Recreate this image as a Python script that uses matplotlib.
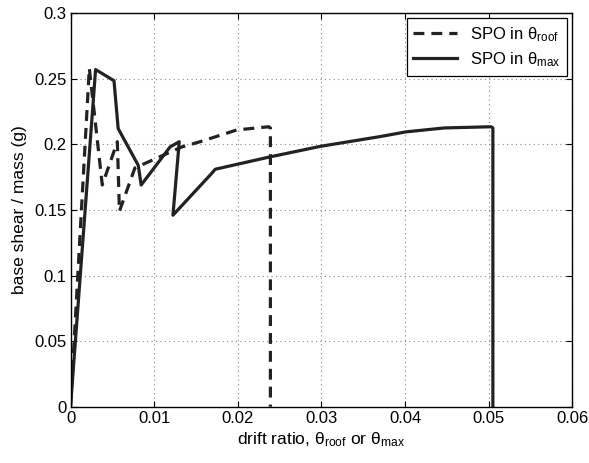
import matplotlib
matplotlib.use("Agg")
import matplotlib.pyplot as plt
from matplotlib.ticker import FuncFormatter

plt.rcParams['font.family'] = ['Liberation Sans', 'DejaVu Sans']
plt.rcParams['mathtext.fontset'] = 'custom'
plt.rcParams['mathtext.rm'] = 'Liberation Sans'
plt.rcParams['mathtext.it'] = 'Liberation Sans'
plt.rcParams['mathtext.default'] = 'regular'

# SPO in theta_roof (dashed)
roof_x = [0.0, 0.00225, 0.0038, 0.0056, 0.00585, 0.0077, 0.0133, 0.0155, 0.0199, 0.0237, 0.0239, 0.0239]
roof_y = [0.0, 0.258, 0.169, 0.202, 0.149, 0.182, 0.198, 0.202, 0.211, 0.2134, 0.2125, 0.0]

# SPO in theta_max (solid)
max_x = [0.0, 0.0030, 0.0052, 0.0057, 0.0081, 0.00845, 0.0119, 0.0130, 0.01225, 0.0169, 0.0173,
         0.0239, 0.0299, 0.0371, 0.0401, 0.0447, 0.0503, 0.0505, 0.0505]
max_y = [0.0, 0.257, 0.2485, 0.212, 0.184, 0.169, 0.198, 0.202, 0.146, 0.178, 0.181,
         0.1905, 0.1985, 0.206, 0.2095, 0.2125, 0.2134, 0.2125, 0.0]

xticks = [0, 0.01, 0.02, 0.03, 0.04, 0.05, 0.06]
yticks = [0, 0.05, 0.1, 0.15, 0.2, 0.25, 0.3]

fig = plt.figure(figsize=(5.89, 4.63), dpi=100)
ax = fig.add_axes([0.1197, 0.1216, 0.852, 0.850])

ax.plot(roof_x, roof_y, color='#222222', lw=2.3, linestyle=(0, (3.4, 2.2)),
        label=r'SPO in $\theta_{roof}$')
ax.plot(max_x, max_y, color='#222222', lw=2.3, linestyle='-',
        label=r'SPO in $\theta_{max}$')

ax.set_xlim(0, 0.06)
ax.set_ylim(0, 0.3)
ax.set_xticks(xticks)
ax.set_yticks(yticks)
fmt = FuncFormatter(lambda v, p: '%g' % round(v, 4))
ax.xaxis.set_major_formatter(fmt)
ax.yaxis.set_major_formatter(fmt)
ax.tick_params(direction='in', top=True, right=True, labelsize=12, length=4, width=0.8, pad=3)
ax.grid(True, linestyle=(0, (1, 3)), color='#888888', linewidth=0.8)
for s in ax.spines.values():
    s.set_linewidth(1.0)

ax.set_xlabel(r'drift ratio, $\theta_{roof}$ or $\theta_{max}$', fontsize=12.5, labelpad=3)
ax.set_ylabel('base shear / mass (g)', fontsize=12.5, labelpad=5)

leg = ax.legend(loc='upper right', fontsize=12, fancybox=False, framealpha=1,
                edgecolor='black', handlelength=2.6, borderaxespad=0.3,
                borderpad=0.4, labelspacing=0.4)
leg.get_frame().set_linewidth(0.9)

fig.savefig('out.png', dpi=100)
